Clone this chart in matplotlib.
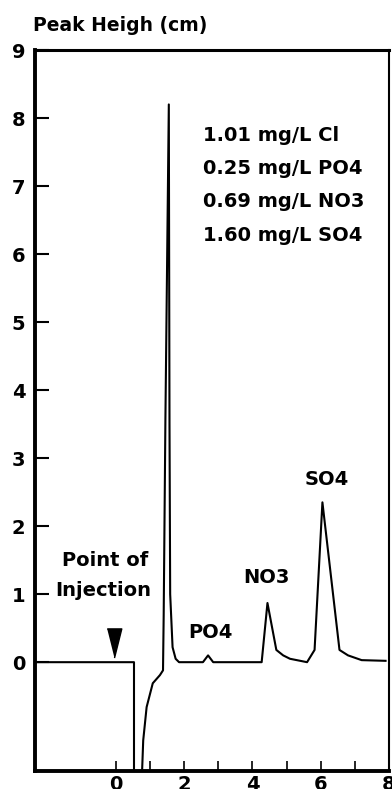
from matplotlib import pyplot as plt

# chromatogram trace (minutes, cm)
time = [-2.4, 0.53, 0.53, 0.76, 0.8, 0.9, 1.08, 1.29, 1.38, 1.40, 1.45, 1.55,
        1.57, 1.59, 1.66, 1.75, 1.85, 2.55, 2.7, 2.85, 4.27, 4.44, 4.7, 4.9,
        5.1, 5.6, 5.82, 6.05, 6.55, 6.8, 7.2, 7.9]
height = [0, 0, -1.7, -1.7, -1.15, -0.66, -0.31, -0.19, -0.12, 0.7, 3.56, 8.2,
          3.5, 1.0, 0.22, 0.05, 0, 0, 0.1, 0, 0, 0.87, 0.18, 0.1,
          0.05, 0, 0.18, 2.35, 0.18, 0.1, 0.03, 0.02]

peak_names = ['PO4', 'NO3', 'SO4']
peak_label_x = [2.78, 4.42, 6.17]
peak_label_y = [0.44, 1.25, 2.69]

conc_lines = ['1.01 mg/L Cl', '0.25 mg/L PO4', '0.69 mg/L NO3', '1.60 mg/L SO4']

x_ticks = [0, 1, 2, 3, 4, 5, 6, 7, 8]
x_labels = ['0', '', '2', '', '4', '', '6', '', '8']
y_ticks = [0, 1, 2, 3, 4, 5, 6, 7, 8, 9]

plt.rcParams['font.family'] = ['DejaVu Sans']
plt.rcParams['font.weight'] = 'bold'

fig = plt.figure(figsize=(3.92, 7.89), dpi=100)
ax = fig.add_axes([0.0893, 0.0228, 0.9030, 0.9138])

ax.plot(time, height, color='black', linewidth=1.5)
ax.set_xlim(-2.37, 8.0)
ax.set_ylim(-1.6, 9.0)

for name, px, py in zip(peak_names, peak_label_x, peak_label_y):
    ax.text(px, py, name, ha='center', va='center', fontsize=14, fontweight='bold')

for i, line in enumerate(conc_lines):
    ax.text(2.54, 7.75 - i * 0.49, line, ha='left', va='center', fontsize=14, fontweight='bold')

ax.text(-0.32, 1.5, 'Point of', ha='center', va='center', fontsize=14, fontweight='bold')
ax.text(-0.37, 1.05, 'Injection', ha='center', va='center', fontsize=14, fontweight='bold')
# injection marker
ax.plot([-0.07], [0.28], marker=[(-0.5, 1), (0.5, 1), (0, -1)], markersize=21,
        color='black', linestyle='none')

ax.set_xticks(x_ticks)
ax.set_xticklabels(x_labels)
ax.set_yticks(y_ticks)
ax.tick_params(axis='y', direction='in', length=10, width=1.5, pad=7, labelsize=14)
ax.tick_params(axis='x', direction='in', length=7, width=1.2, pad=3, labelsize=14)

ax.spines['left'].set_linewidth(2.8)
ax.spines['bottom'].set_linewidth(2.8)
ax.spines['top'].set_linewidth(2.2)
ax.spines['right'].set_linewidth(1.5)

fig.text(0.084, 0.968, 'Peak Heigh (cm)', ha='left', va='center', fontsize=13.5, fontweight='bold')

plt.savefig('out.png', dpi=100)
